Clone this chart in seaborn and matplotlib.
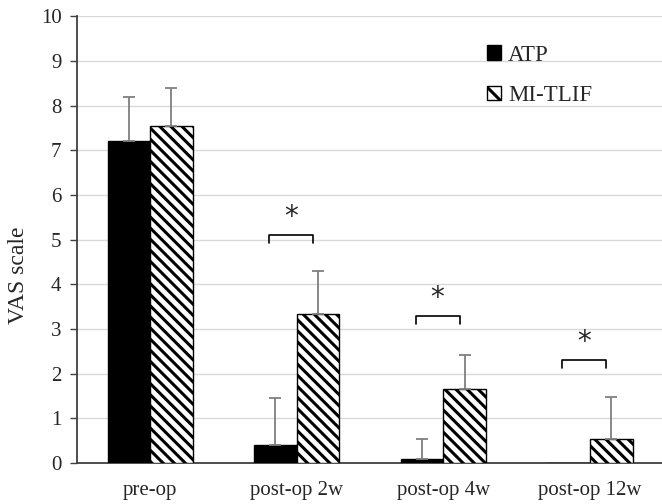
import numpy as np
import pandas as pd
import matplotlib
matplotlib.use("Agg")
import matplotlib.pyplot as plt
import seaborn as sns
from matplotlib.patches import Patch

categories = ["pre-op", "post-op 2w", "post-op 4w", "post-op 12w"]
groups = ["ATP", "MI-TLIF"]
atp_mean = [7.2, 0.4, 0.1, 0.0]
atp_sd = [1.0, 1.05, 0.45, 0.0]
tlif_mean = [7.55, 3.33, 1.67, 0.55]
tlif_sd = [0.85, 0.97, 0.76, 0.93]
sig_height = [None, 4.92, 3.12, 2.12]

df = pd.DataFrame({
    "time": categories * 2,
    "group": ["ATP"] * 4 + ["MI-TLIF"] * 4,
    "vas": atp_mean + tlif_mean,
})

sns.set_style("white")
plt.rcParams["font.family"] = ["Liberation Serif", "DejaVu Serif"]
plt.rcParams["hatch.linewidth"] = 2.2
plt.rcParams["hatch.color"] = "black"

fig = plt.figure(figsize=(6.62, 5.04), dpi=100)
ax = fig.add_axes([0.116, 0.081, 0.886, 0.887])

sns.barplot(data=df, x="time", y="vas", hue="group", order=categories,
            hue_order=groups, palette=["black", "white"], width=0.58,
            errorbar=None, ax=ax, edgecolor="black", linewidth=1.0,
            legend=False, zorder=3)

# hatch MI-TLIF bars, add upward-only error bars
for i, p in enumerate(ax.patches[:8]):
    j = i % 4
    if i >= 4:
        p.set_hatch("\\\\\\")
        m, s = tlif_mean[j], tlif_sd[j]
    else:
        m, s = atp_mean[j], atp_sd[j]
    if s > 0:
        xc = p.get_x() + p.get_width() / 2
        ax.errorbar(xc, m, yerr=[[0], [s]], fmt="none", ecolor="#7f7f7f",
                    elinewidth=1.3, capsize=4, capthick=1.3, zorder=4)

# significance brackets
for k, h in enumerate(sig_height):
    if h is None:
        continue
    x0, x1 = k - 0.19, k + 0.11
    ax.plot([x0, x0, x1, x1], [h, h + 0.18, h + 0.18, h], color="black",
            lw=1.2, zorder=4)
    ax.text((x0 + x1) / 2, h + 0.27, "*", ha="center", va="bottom",
            fontsize=20, family="DejaVu Sans")

ax.set_ylim(0, 10)
ax.set_xlim(-0.5, 3.5)
ax.set_yticks(range(0, 11))
ax.yaxis.grid(True, color="#d9d9d9", lw=1.0, zorder=0)
ax.set_axisbelow(True)
ax.tick_params(axis="y", length=5, width=1, labelsize=15, color="#404040", left=True, pad=6)
ax.tick_params(axis="x", length=0, labelsize=15, pad=13)
for s in ["top", "right"]:
    ax.spines[s].set_visible(False)
for s in ["left", "bottom"]:
    ax.spines[s].set_color("#404040")
    ax.spines[s].set_linewidth(1.3)
ax.set_xlabel("")
ax.set_ylabel("VAS scale", fontsize=17, va="center")
ax.yaxis.set_label_coords(-0.1, 0.42)

handles = [Patch(facecolor="black", edgecolor="black"),
           Patch(facecolor="white", edgecolor="black", hatch="\\\\")]
ax.legend(handles, groups, loc="upper left", bbox_to_anchor=(0.665, 0.982),
          frameon=False, fontsize=16.5, handlelength=0.6, handleheight=0.6,
          handletextpad=0.3, labelspacing=0.85)

fig.savefig("out.png", dpi=100)
